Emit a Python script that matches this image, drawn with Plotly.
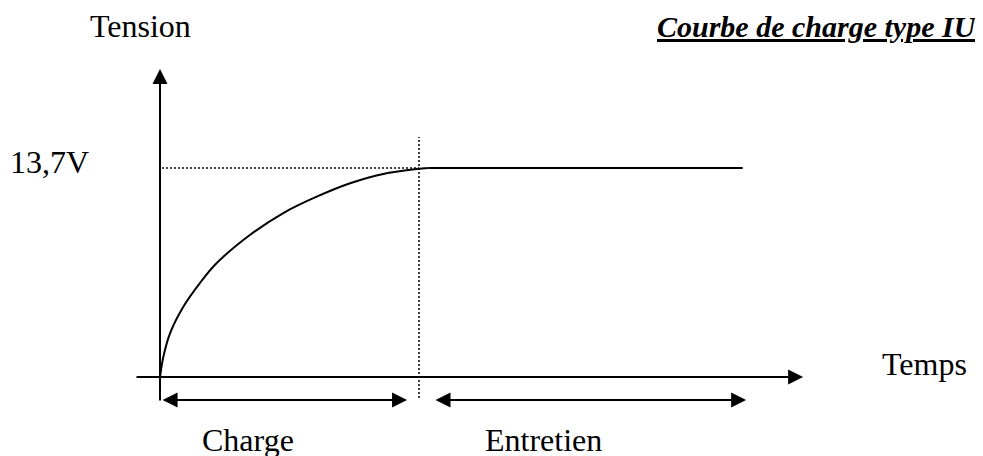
import plotly.graph_objects as go

# courbe de charge type IU : tension (V) en fonction du temps (h)
t_charge = [0, 0.13, 0.39, 0.90, 1.54, 2.19, 3.47, 4.76, 6.05, 7.34, 8.62, 9.91, 10.36]
v_charge = [0, 1.33, 2.88, 4.61, 6.16, 7.47, 9.31, 10.75, 11.82, 12.70, 13.31, 13.63, 13.7]
t_entretien = [10.36, 22.5]
v_entretien = [13.7, 13.7]

v_max = 13.7
t_fin_charge = 10

# axes (origine -> pointe de la fleche)
axe_temps = [-0.965, 24.83]
axe_tension = [-1.64, 20.19]

# phases (fleches doubles sous l'axe)
phase_charge = [0.04, 9.54]
phase_entretien = [10.58, 22.63]
y_phases = -1.51
pointilles_v = [-1.38, 15.73]

FONT = "Liberation Serif"

fig = go.Figure()

# curve + maintenance line
fig.add_trace(go.Scatter(x=t_charge, y=v_charge, mode="lines",
                         line=dict(color="black", width=2, shape="spline")))
fig.add_trace(go.Scatter(x=t_entretien, y=v_entretien, mode="lines",
                         line=dict(color="black", width=2)))

# dotted guides
fig.add_trace(go.Scatter(x=[0.08, t_fin_charge], y=[v_max, v_max], mode="lines",
                         line=dict(color="black", width=1.5, dash="2px,2px")))
fig.add_trace(go.Scatter(x=[t_fin_charge, t_fin_charge], y=pointilles_v, mode="lines",
                         line=dict(color="black", width=1.5, dash="2px,2px")))


def fleche(x0, y0, x1, y1, double=False):
    a = dict(x=x1, y=y1, ax=x0, ay=y0, xref="x", yref="y", axref="x", ayref="y",
             text="", showarrow=True, arrowhead=2, arrowsize=1.5, arrowwidth=2,
             arrowcolor="black", standoff=0)
    if double:
        a.update(arrowside="end+start", startarrowhead=2, startarrowsize=1.5, startstandoff=0)
    return a


annotations = [
    fleche(axe_temps[0], 0, axe_temps[1], 0),
    fleche(0, axe_tension[0], 0, axe_tension[1]),
    fleche(phase_charge[0], y_phases, phase_charge[1], y_phases, double=True),
    fleche(phase_entretien[0], y_phases, phase_entretien[1], y_phases, double=True),
]

txt = dict(font=dict(family=FONT, size=32, color="black"), showarrow=False,
           xref="x", yref="y")
annotations += [
    dict(text="Tension", x=-0.77, y=23.0, **txt),
    dict(text="13,7V", x=-5.85, y=14.1, xanchor="left", **txt),
    dict(text="Temps", x=29.5, y=0.85, **txt),
    dict(text="Charge", x=3.4, y=-4.1, **txt),
    dict(text="Entretien", x=14.81, y=-4.1, **txt),
    dict(text="<b><i>Courbe de charge type IU</i></b>", x=31.62, y=23.0,
         xref="x", yref="y", xanchor="right", showarrow=False,
         font=dict(family=FONT, size=30, color="black", lineposition="under")),
]

fig.update_layout(
    width=983, height=456, autosize=False,
    margin=dict(l=0, r=0, t=0, b=0),
    paper_bgcolor="white", plot_bgcolor="white",
    showlegend=False,
    annotations=annotations,
)
# ranges offset by the page's 8px body margin
fig.update_xaxes(range=[-5.869, 32.085], visible=False, fixedrange=True)
fig.update_yaxes(range=[-5.703, 24.189], visible=False, fixedrange=True)

fig.write_html("out.html")
